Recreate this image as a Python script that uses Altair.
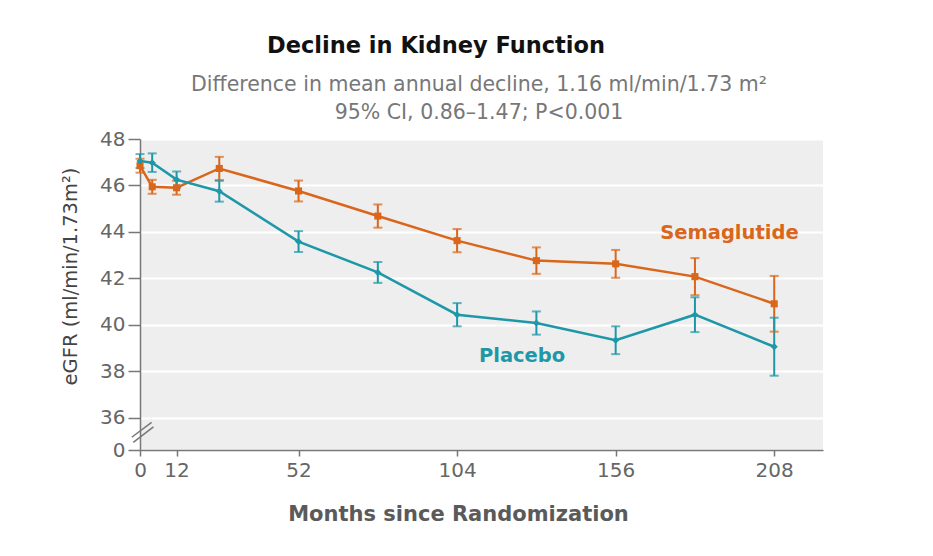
import altair as alt
import pandas as pd

# ---- data ----
weeks = [0, 4, 12, 26, 52, 78, 104, 130, 156, 182, 208]
sema = [46.85, 45.94, 45.90, 46.73, 45.76, 44.68, 43.62, 42.76, 42.62, 42.07, 40.90]
sema_err = [0.30, 0.30, 0.30, 0.50, 0.45, 0.50, 0.50, 0.57, 0.60, 0.80, 1.20]
placebo = [47.05, 46.98, 46.25, 45.75, 43.58, 42.25, 40.43, 40.07, 39.33, 40.43, 39.05]
placebo_err = [0.30, 0.40, 0.35, 0.45, 0.45, 0.45, 0.50, 0.50, 0.60, 0.75, 1.25]

series = ["Semaglutide", "Placebo"]
colors = ["#D9661A", "#1E97A8"]
shapes = ["square", "diamond"]

x_ticks = [0, 12, 52, 104, 156, 208]
y_ticks = [34.6, 36, 38, 40, 42, 44, 46, 48]

TITLE = "Decline in Kidney Function"
SUB1 = "Difference in mean annual decline, 1.16 ml/min/1.73 m\u00b2"
SUB2 = "95% CI, 0.86\u20131.47; P<0.001"
X_TITLE = "Months since Randomization"
Y_TITLE = "eGFR (ml/min/1.73m\u00b2)"

label_x = [193.3, 125.3]
label_y = [43.95, 38.67]

FONT = "DejaVu Sans"

rows = []
for w, v, e in zip(weeks, sema, sema_err):
    rows.append({"week": w, "egfr": v, "lo": v - e, "hi": v + e, "series": series[0]})
for w, v, e in zip(weeks, placebo, placebo_err):
    rows.append({"week": w, "egfr": v, "lo": v - e, "hi": v + e, "series": series[1]})
df = pd.DataFrame(rows)

xscale = alt.Scale(domain=[0, 224], nice=False, zero=False)
yscale = alt.Scale(domain=[34.6, 48], nice=False, zero=False)
cscale = alt.Scale(domain=series, range=colors)

x_axis = alt.Axis(
    values=x_ticks, title=X_TITLE, grid=False, tickSize=6, tickColor="#777",
    tickWidth=1.5, domainColor="#777", domainWidth=1.5, labelFontSize=20,
    labelColor="#666", labelPadding=4, labelFont=FONT, labelFlush=False,
    titleFont=FONT, titleFontSize=21, titleFontWeight=600, titleColor="#5a5a5a",
    titleX=318, titleY=70, titleAlign="center", titleBaseline="alphabetic",
    zindex=1,
)
y_axis = alt.Axis(
    values=y_ticks, labelExpr="datum.value < 35 ? '0' : datum.label",
    title=Y_TITLE, grid=True, gridColor="white", gridWidth=2, tickSize=12,
    tickColor="#777", tickWidth=1.5, domainColor="#777", domainWidth=1.5,
    labelFontSize=20, labelColor="#666", labelPadding=3, labelFont=FONT,
    labelFlush=False,
    titleFont=FONT, titleFontSize=19.5, titleFontWeight="normal", titleColor="#444",
    titleX=-70, titleY=137, titleAngle=-90, titleAlign="center",
    titleBaseline="middle",
)

base = alt.Chart(df)
X = alt.X("week:Q", scale=xscale, axis=x_axis)
C = alt.Color("series:N", scale=cscale, legend=None)

bars = base.mark_rule(strokeWidth=2).encode(
    x=X, y=alt.Y("lo:Q", scale=yscale, axis=y_axis), y2="hi:Q", color=C)
cap_lo = base.mark_tick(orient="horizontal", thickness=2, size=9).encode(
    x=X, y=alt.Y("lo:Q", scale=yscale), color=C)
cap_hi = base.mark_tick(orient="horizontal", thickness=2, size=9).encode(
    x=X, y=alt.Y("hi:Q", scale=yscale), color=C)
lines = base.mark_line(strokeWidth=2.5).encode(
    x=X, y=alt.Y("egfr:Q", scale=yscale), color=C, detail="series:N")
points = base.mark_point(filled=True, size=50, opacity=1).encode(
    x=X, y=alt.Y("egfr:Q", scale=yscale), color=C,
    shape=alt.Shape("series:N", scale=alt.Scale(domain=series, range=shapes), legend=None))

lab_df = pd.DataFrame({"series": series, "lx": label_x, "ly": label_y})
labels = alt.Chart(lab_df).mark_text(
    font=FONT, fontSize=19.5, fontWeight="bold", baseline="middle", align="center"
).encode(x=alt.X("lx:Q", scale=xscale), y=alt.Y("ly:Q", scale=yscale),
         text="series:N", color=C)

brk_df = pd.DataFrame({"x1": [-2.7, -2.2], "x2": [3.8, 4.4], "y1": [35.15, 34.93], "y2": [35.79, 35.6]})
breaks = alt.Chart(brk_df).mark_rule(color="#777", strokeWidth=1.5).encode(
    x=alt.X("x1:Q", scale=xscale), x2="x2:Q",
    y=alt.Y("y1:Q", scale=yscale), y2="y2:Q")

def text_layer(txt, px, py, size, weight, color):
    return alt.Chart(pd.DataFrame({"t": [txt]})).mark_text(
        font=FONT, fontSize=size, fontWeight=weight, color=color,
        align="center", baseline="alphabetic"
    ).encode(text="t:N", x=alt.value(px), y=alt.value(py))

t1 = text_layer(TITLE, 296, -86, 22.5, "bold", "#111")
t2 = text_layer(SUB1, 339, -48, 20.5, "normal", "#777")
t3 = text_layer(SUB2, 339, -20, 20.5, "normal", "#777")

chart = alt.layer(bars, cap_lo, cap_hi, lines, points, labels, breaks, t1, t2, t3).properties(
    width=683, height=311,
    padding={"left": 132, "top": 131, "right": 80, "bottom": 90},
    autosize=alt.AutoSizeParams(type="none"),
    background="white",
).configure_view(fill="#eeeeee", strokeWidth=0)

chart.save("out.html", embed_options={"renderer": "svg", "actions": False})
